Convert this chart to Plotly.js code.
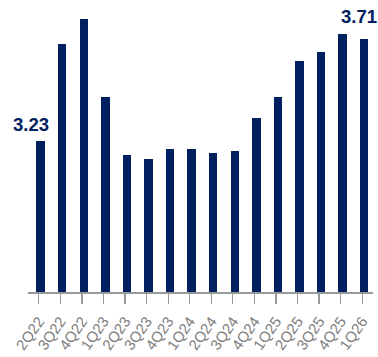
<!DOCTYPE html>
<html>
<head>
<meta charset="utf-8">
<script src="https://cdn.plot.ly/plotly-3.0.1.min.js"></script>
<style>html,body{margin:0;padding:0;background:#fff;}#chart{width:378px;height:357px;}</style>
</head>
<body>
<div id="chart"></div>
<script>
const quarters = ["2Q22","3Q22","4Q22","1Q23","2Q23","3Q23","4Q23","1Q24","2Q24","3Q24","4Q24","1Q25","2Q25","3Q25","4Q25","1Q26"];
const values = [3.23,3.684,3.803,3.437,3.163,3.144,3.191,3.191,3.174,3.183,3.335,3.437,3.607,3.646,3.731,3.71];
const labelledQuarters = ["2Q22","1Q26"];
const labelledValues = [3.23,3.71];
const labelTexts = ["3.23","3.71"];

const navy = "#002060";
const font = "Liberation Sans, Arial, sans-serif";

const data = [{
  type: "bar",
  x: quarters,
  y: values,
  marker: {color: navy},
  width: 0.39,
  offset: -0.107,
  hoverinfo: "none"
}];

const shifts = [{x:-8, y:4}, {x:-3, y:10}];
const annotations = labelledQuarters.map((q, i) => ({
  x: q, y: labelledValues[i], xref: "x", yref: "y",
  text: "<b>" + labelTexts[i] + "</b>",
  showarrow: false, yanchor: "bottom", xanchor: "center",
  xshift: shifts[i].x, yshift: shifts[i].y,
  font: {family: font, size: 18.5, color: navy}
}));

const layout = {
  width: 378, height: 357,
  margin: {l: 28, r: 5, t: 10, b: 65},
  paper_bgcolor: "#fff", plot_bgcolor: "#fff",
  showlegend: false,
  bargap: 0,
  xaxis: {
    type: "category",
    range: [-0.5, 15.5],
    showline: true, linecolor: "#999999", linewidth: 1.5,
    ticks: "outside", ticklen: 10, tickwidth: 1.3, tickcolor: "#999999",
    tickangle: -55,
    ticklabelstandoff: 3,
    tickfont: {family: font, size: 15, color: "#808080"},
    showgrid: false, zeroline: false, fixedrange: true,
    automargin: false
  },
  yaxis: {
    range: [2.518, 3.845],
    visible: false, showgrid: false, zeroline: false, fixedrange: true
  },
  annotations: annotations
};

Plotly.newPlot("chart", data, layout, {staticPlot: true, displayModeBar: false});
</script>
</body>
</html>
